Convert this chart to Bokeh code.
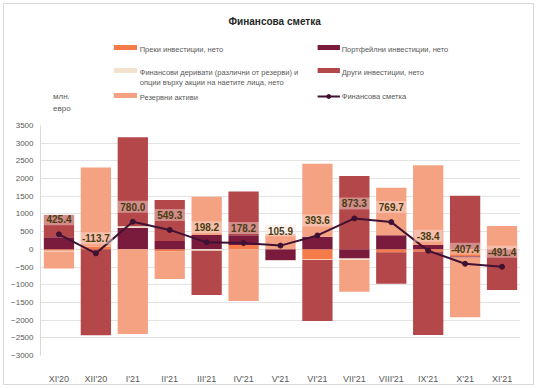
import numpy as np
from bokeh.plotting import figure
from bokeh.layouts import column
from bokeh.models import ColumnDataSource, Range1d, FactorRange, FixedTicker
from bokeh.core.properties import value
from bokeh.embed import file_html
from bokeh.resources import INLINE

# ---------------- data ----------------
months = ["XI'20", "XII'20", "I'21", "II'21", "III'21", "IV'21", "V'21",
          "VI'21", "VII'21", "VIII'21", "IX'21", "X'21", "XI'21"]
direct      = [-40,    70,     0,  -60,     0,   121,    0, -287,    0,  -80,   -60, -200,     0]
portfolio   = [339,     0,   610,  234,   404,   280, -307,  357, -262,  400,   120,  -30,     0]
derivatives = [-20,     0,    40,    0,   -40,     0,  -15,  -15,  -40,    0,     0,    0,     0]
other       = [629, -2430,  2520, 1160, -1247,  1235,    0, -1725, 2070, -890, -2360, 1513, -1150]
reserve     = [-480, 2241, -2391, -780,  1081, -1460,  428, 2063, -895, 1340,  2260, -1690,  660]
fin_account = [425.4, -113.7, 780.0, 549.3, 198.2, 178.2, 105.9, 393.6, 873.3, 769.7, -38.4, -407.4, -491.4]
y_ticks = list(range(-3000, 3501, 500))

series_names = ["Преки инвестиции, нето", "Портфейлни инвестиции, нето",
                "Финансови деривати (различни от резерви) и\nопции върху акции на наетите лица, нето",
                "Други инвестиции, нето", "Резервни активи"]
line_name = "Финансова сметка"
title_text = "Финансова сметка"
unit_text = "млн.\nевро"

colors = ["#F57B4B", "#7A1A3C", "#F3E2CE", "#B4474A", "#F5A283"]
line_color = "#3F1233"
FONT = "Liberation Sans"
TXT = "#595959"

W = 537
TOP_H = 118
BOT_H = 388 - TOP_H

# ---------------- header figure (title, legend, unit) ----------------
h = figure(width=W, height=TOP_H, x_range=Range1d(0, W), y_range=Range1d(TOP_H, 0),
           output_backend="svg", toolbar_location=None, x_axis_type=None, y_axis_type=None,
           min_border=0, min_border_left=0, min_border_right=0, min_border_top=0,
           min_border_bottom=0)
h.outline_line_color = None
h.background_fill_color = None
h.border_fill_color = None
h.grid.visible = False

h.text(x=[262], y=[21], text=[title_text], text_align="center", text_baseline="middle",
       text_font=value(FONT), text_font_size="10px", text_font_style="bold",
       text_color="#262626")

unit_lines = unit_text.split("\n")
h.text(x=[14] * len(unit_lines), y=[96 + 12 * i for i in range(len(unit_lines))],
       text=unit_lines, text_align="left", text_baseline="middle",
       text_font=value(FONT), text_font_size="8px", text_color=TXT)

# legend layout: (column, row-center y)
leg_pos = [(0, 47), (1, 47), (0, 70), (1, 70), (0, 95)]
col_x = [(82, 108, 111), (310, 335, 337)]
for (c, yc), name, col in zip(leg_pos, series_names, colors):
    x0, x1, xt = col_x[c]
    h.quad(left=[x0], right=[x1], top=[yc - 2.5], bottom=[yc + 2.5],
           fill_color=col, line_color=None)
    lines = name.split("\n")
    h.text(x=[xt] * len(lines), y=[yc + 1.5 + 10 * j for j in range(len(lines))],
           text=lines, text_align="left", text_baseline="middle",
           text_font=value(FONT), text_font_size="7.5px", text_color=TXT)

x0, x1, xt = col_x[1]
yc = 96
h.line(x=[x0, x1], y=[yc, yc], line_color=line_color, line_width=2)
h.scatter(x=[(x0 + x1) / 2], y=[yc], size=4, fill_color=line_color, line_color=line_color)
h.text(x=[xt], y=[yc], text=[line_name], text_align="left", text_baseline="middle",
       text_font=value(FONT), text_font_size="7.5px", text_color=TXT)

# ---------------- chart figure ----------------
p = figure(width=W, height=BOT_H, x_range=FactorRange(*months), y_range=Range1d(-3000, 3500),
           output_backend="svg", toolbar_location=None,
           min_border_left=40, min_border_right=17, min_border_top=7, min_border_bottom=33)
p.outline_line_color = None
p.background_fill_color = "white"
p.border_fill_color = None

p.xgrid.grid_line_color = None
p.ygrid.grid_line_color = "#E3E3E3"
p.ygrid.ticker = FixedTicker(ticks=y_ticks)

p.yaxis.ticker = FixedTicker(ticks=y_ticks)
p.yaxis.axis_line_color = "#D9D9D9"
p.yaxis.major_tick_line_color = None
p.yaxis.major_tick_out = 0
p.yaxis.major_tick_in = 0
p.yaxis.minor_tick_line_color = None
p.yaxis.major_label_standoff = 7
p.yaxis.major_label_text_font = FONT
p.yaxis.major_label_text_font_size = "8px"
p.yaxis.major_label_text_color = TXT

p.xaxis.axis_line_color = None
p.xaxis.major_tick_line_color = None
p.xaxis.major_tick_out = 0
p.xaxis.major_tick_in = 0
p.xaxis.minor_tick_line_color = None
p.xaxis.major_label_standoff = 18
p.xaxis.major_label_text_font = FONT
p.xaxis.major_label_text_font_size = "9px"
p.xaxis.major_label_text_color = TXT

pos_base = np.zeros(len(months))
neg_base = np.zeros(len(months))
for vals, col in zip([direct, portfolio, derivatives, other, reserve], colors):
    v = np.array(vals, dtype=float)
    bottom = np.where(v >= 0, pos_base, neg_base + v)
    top = np.where(v >= 0, pos_base + v, neg_base)
    src = ColumnDataSource(dict(x=months, bottom=bottom, top=top))
    p.vbar(x="x", bottom="bottom", top="top", width=0.82, source=src,
           fill_color=col, line_color=None)
    pos_base = pos_base + np.clip(v, 0, None)
    neg_base = neg_base + np.clip(v, None, 0)

lsrc = ColumnDataSource(dict(x=months, y=fin_account,
                             lab=[f"{v:.1f}" for v in fin_account]))
p.line(x="x", y="y", source=lsrc, line_color=line_color, line_width=2)
p.scatter(x="x", y="y", source=lsrc, size=5, fill_color=line_color, line_color=line_color)

p.text(x="x", y="y", text="lab", source=lsrc, y_offset=-15,
       text_align="center", text_baseline="middle",
       text_font=value(FONT), text_font_size="10px", text_font_style="bold",
       text_color="#4A3C12",
       background_fill_color="#F6E3DC", background_fill_alpha=0.45,
       padding=[3, 2])

layout = column(h, p, spacing=0,
                styles={"background-color": "white",
                        "box-shadow": "inset 0 0 0 3px white, inset 0 0 0 4px #D9D9D9"})

open("out.html", "w").write(file_html(layout, INLINE))
